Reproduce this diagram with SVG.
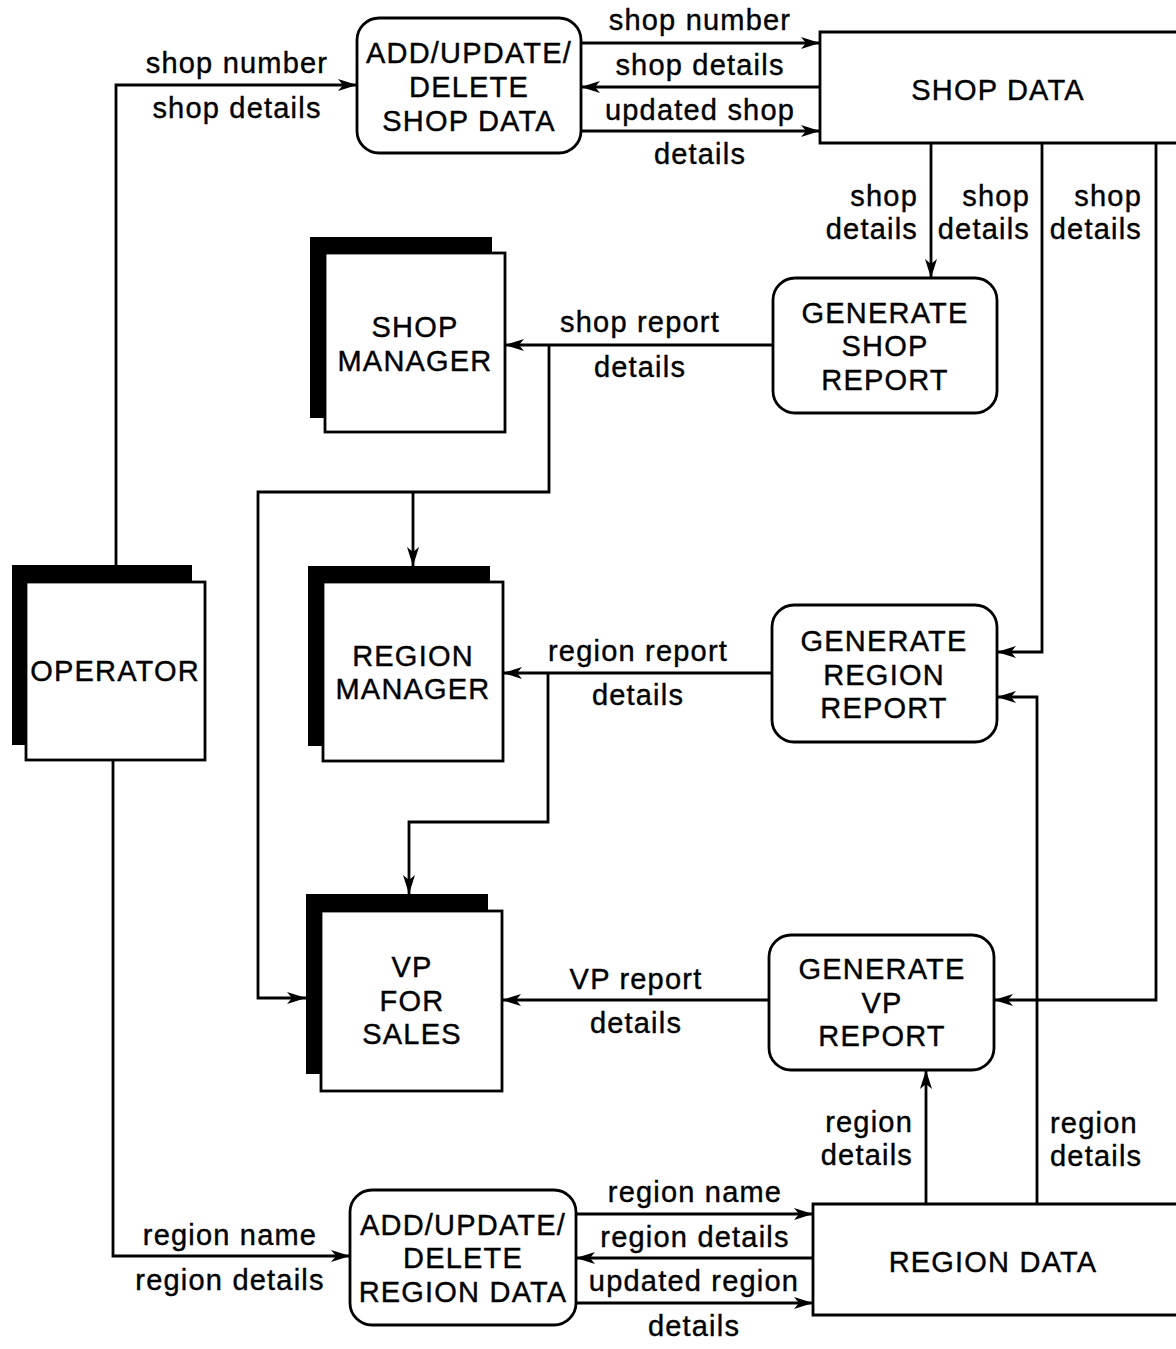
<svg xmlns="http://www.w3.org/2000/svg" width="1176" height="1349" viewBox="0 0 1176 1349">
<style>
text{font-family:"Liberation Sans",Arial,sans-serif;font-size:29px;letter-spacing:1.2px;fill:#000;stroke:#000;stroke-width:0.4px}
.c{text-anchor:middle}
.r{text-anchor:end}
.box{fill:#fff;stroke:#000;stroke-width:2.8}
.sh{fill:#000}
.ln{fill:none;stroke:#000;stroke-width:2.8}
.arr{marker-end:url(#ah)}
</style>
<defs>
<marker id="ah" markerUnits="userSpaceOnUse" markerWidth="22" markerHeight="14" refX="19" refY="6" orient="auto">
<path d="M0,0 L19,6 L0,12 L5,6 z" fill="#000"/>
</marker>
</defs>
<rect width="1176" height="1349" fill="#fff"/>

<g id="connectors">
<path class="ln arr" d="M116,582 V85 H357"/>
<path class="ln arr" d="M113,760 V1256 H350"/>
<path class="ln arr" d="M581,43 H820"/>
<path class="ln arr" d="M820,87 H581"/>
<path class="ln arr" d="M581,131 H820"/>
<path class="ln arr" d="M931,143 V278"/>
<path class="ln arr" d="M1042,143 V652 H997"/>
<path class="ln arr" d="M1156,143 V1000 H994"/>
<path class="ln arr" d="M773,345 H505"/>
<path class="ln arr" d="M549,345 V492 H258 V998 H306"/>
<path class="ln arr" d="M413,492 V566"/>
<path class="ln arr" d="M772,673 H503"/>
<path class="ln arr" d="M548,673 V822 H409 V894"/>
<path class="ln arr" d="M769,1000 H502"/>
<path class="ln arr" d="M926,1204 V1070"/>
<path class="ln arr" d="M1037,1204 V697 H997"/>
<path class="ln arr" d="M576,1214 H813"/>
<path class="ln arr" d="M813,1258 H576"/>
<path class="ln arr" d="M576,1303 H813"/>
<text class="c" x="237" y="73">shop number</text>
<text class="c" x="237" y="118">shop details</text>
<text class="c" x="700" y="30">shop number</text>
<text class="c" x="700" y="75">shop details</text>
<text class="c" x="700" y="120">updated shop</text>
<text class="c" x="700" y="164">details</text>
<text class="r" x="918" y="206">shop</text>
<text class="r" x="918" y="239">details</text>
<text class="r" x="1030" y="206">shop</text>
<text class="r" x="1030" y="239">details</text>
<text class="r" x="1142" y="206">shop</text>
<text class="r" x="1142" y="239">details</text>
<text class="c" x="640" y="332">shop report</text>
<text class="c" x="640" y="377">details</text>
<text class="c" x="638" y="661">region report</text>
<text class="c" x="638" y="705">details</text>
<text class="c" x="636" y="989">VP report</text>
<text class="c" x="636" y="1033">details</text>
<text class="r" x="913" y="1132">region</text>
<text class="r" x="913" y="1165">details</text>
<text x="1050" y="1133">region</text>
<text x="1050" y="1166">details</text>
<text class="c" x="230" y="1245">region name</text>
<text class="c" x="230" y="1290">region details</text>
<text class="c" x="695" y="1202">region name</text>
<text class="c" x="695" y="1247">region details</text>
<text class="c" x="694" y="1291">updated region</text>
<text class="c" x="694" y="1336">details</text>
</g>

<g id="add-update-delete-shop-data">
<rect class="box" x="357" y="18" width="224" height="135" rx="22"/>
<text class="c" x="469" y="63">ADD/UPDATE/</text>
<text class="c" x="469" y="97">DELETE</text>
<text class="c" x="469" y="131">SHOP DATA</text>
</g>

<g id="shop-data">
<path class="box" d="M1178,32 H820 V143 H1178"/>
<text class="c" x="998" y="100">SHOP DATA</text>
</g>

<g id="shop-manager">
<rect class="sh" x="310" y="237" width="182" height="181"/>
<rect class="box" x="325" y="253" width="180" height="179"/>
<text class="c" x="415" y="337">SHOP</text>
<text class="c" x="415" y="371">MANAGER</text>
</g>

<g id="generate-shop-report">
<rect class="box" x="773" y="278" width="224" height="135" rx="22"/>
<text class="c" x="885" y="323">GENERATE</text>
<text class="c" x="885" y="356">SHOP</text>
<text class="c" x="885" y="390">REPORT</text>
</g>

<g id="operator">
<rect class="sh" x="12" y="565" width="180" height="180"/>
<rect class="box" x="26" y="582" width="179" height="178"/>
<text class="c" x="115" y="681">OPERATOR</text>
</g>

<g id="region-manager">
<rect class="sh" x="308" y="566" width="182" height="180"/>
<rect class="box" x="323" y="582" width="180" height="179"/>
<text class="c" x="413" y="666">REGION</text>
<text class="c" x="413" y="699">MANAGER</text>
</g>

<g id="generate-region-report">
<rect class="box" x="772" y="605" width="225" height="137" rx="22"/>
<text class="c" x="884" y="651">GENERATE</text>
<text class="c" x="884" y="685">REGION</text>
<text class="c" x="884" y="718">REPORT</text>
</g>

<g id="vp-for-sales">
<rect class="sh" x="306" y="894" width="182" height="180"/>
<rect class="box" x="321" y="911" width="181" height="180"/>
<text class="c" x="412" y="977">VP</text>
<text class="c" x="412" y="1011">FOR</text>
<text class="c" x="412" y="1044">SALES</text>
</g>

<g id="generate-vp-report">
<rect class="box" x="769" y="935" width="225" height="135" rx="22"/>
<text class="c" x="882" y="979">GENERATE</text>
<text class="c" x="882" y="1013">VP</text>
<text class="c" x="882" y="1046">REPORT</text>
</g>

<g id="add-update-delete-region-data">
<rect class="box" x="350" y="1190" width="226" height="135" rx="22"/>
<text class="c" x="463" y="1235">ADD/UPDATE/</text>
<text class="c" x="463" y="1268">DELETE</text>
<text class="c" x="463" y="1302">REGION DATA</text>
</g>

<g id="region-data">
<path class="box" d="M1178,1204 H813 V1315 H1178"/>
<text class="c" x="993" y="1272">REGION DATA</text>
</g>
</svg>
